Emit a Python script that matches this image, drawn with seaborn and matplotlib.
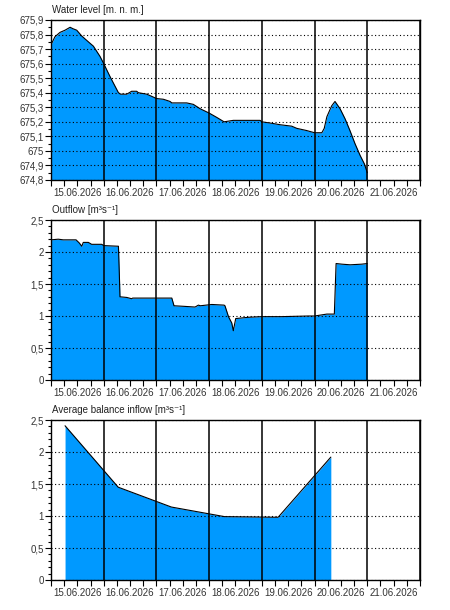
import numpy as np
import pandas as pd
import matplotlib
matplotlib.use("Agg")
import matplotlib.pyplot as plt
from matplotlib.ticker import MultipleLocator, FuncFormatter
import seaborn as sns

sns.set_style("white")
plt.rcParams['font.family'] = ['Liberation Sans', 'DejaVu Sans']
plt.rcParams['font.size'] = 7

# hours since 15.06.2026 00:00
level_hours = [0, 1.8, 4.1, 6.4, 8.7, 10, 11.7, 14, 17, 19.3, 22.3, 24, 26.9, 30.7, 31.7,
               34.5, 36.7, 39, 39.8, 43.6, 46.6, 48, 51.2, 54.2, 55, 61.8, 64.8, 67.9,
               72, 75.5, 78.8, 83, 95.2, 96, 100.5, 104.3, 109.6, 111.9, 116.4, 120,
               123.3, 124.4, 125.6, 127.8, 129.3, 131.6, 133.9, 136.1, 138.4, 140.7,
               142.7, 144]
level_values = [675.73, 675.785, 675.815, 675.83, 675.85, 675.84, 675.83, 675.79, 675.75,
                675.72, 675.65, 675.60, 675.51, 675.40, 675.39, 675.39, 675.41, 675.41,
                675.40, 675.39, 675.37, 675.36, 675.355, 675.34, 675.33, 675.33, 675.32,
                675.29, 675.26, 675.23, 675.20, 675.21, 675.21, 675.20, 675.19, 675.18,
                675.17, 675.155, 675.14, 675.125, 675.125, 675.155, 675.235, 675.31,
                675.34, 675.29, 675.22, 675.14, 675.05, 674.97, 674.91, 674.85]

outflow_hours = [0, 3.3, 5.6, 11.4, 12.9, 14, 14.7, 17, 18.5, 23.1, 24, 30.7, 31.1, 31.4,
                 34.5, 36.7, 37.2, 55, 56, 61, 65.6, 67.1, 68, 73.2, 78.8, 79.2, 80.8,
                 82.3, 83, 84.1, 89.9, 95.8, 105, 117.2, 120, 125.6, 129, 129.8, 132.4,
                 136.2, 141.5, 144]
outflow_values = [2.19, 2.20, 2.19, 2.19, 2.14, 2.09, 2.15, 2.15, 2.12, 2.12, 2.10, 2.09,
                  1.67, 1.30, 1.29, 1.27, 1.28, 1.28, 1.16, 1.15, 1.14, 1.17, 1.16, 1.18,
                  1.17, 1.16, 0.99, 0.89, 0.77, 0.96, 0.98, 0.99, 0.99, 1.00, 1.00, 1.03,
                  1.03, 1.82, 1.81, 1.80, 1.81, 1.82]

inflow_hours = [6.4, 30.6, 54.8, 79, 103.4, 127.4]
inflow_values = [2.41, 1.45, 1.14, 0.99, 0.98, 1.92]

day_labels = ["15.06.2026", "16.06.2026", "17.06.2026", "18.06.2026",
              "19.06.2026", "20.06.2026", "21.06.2026"]

panels = [
    ("Water level [m. n. m.]", level_hours, level_values, 674.8, 675.9, 0.1, 0.05),
    ("Outflow [m³s⁻¹]", outflow_hours, outflow_values, 0, 2.5, 0.5, 0.1),
    ("Average balance inflow [m³s⁻¹]", inflow_hours, inflow_values, 0, 2.5, 0.5, 0.1),
]

fill_color = "#0099FF"
W, H = 450, 610
fig = plt.figure(figsize=(W / 100, H / 100), dpi=100)
tops = [20, 220, 420]

comma = FuncFormatter(lambda v, p: ("%g" % round(v, 3)).replace(".", ","))

for (title, hrs, vals, ymin, ymax, major, minor), top in zip(panels, tops):
    ax = fig.add_axes([51 / W, 1 - (top + 160) / H, 369 / W, 160 / H])
    df = pd.DataFrame({"hour": hrs, "value": vals})
    ax.fill_between(df["hour"], ymin, df["value"], color=fill_color, lw=0, zorder=1)
    sns.lineplot(data=df, x="hour", y="value", ax=ax, color="black", lw=0.8, zorder=2)

    ax.set_xlim(0, 168)
    ax.set_ylim(ymin, ymax)
    ax.set_xlabel("")
    ax.set_ylabel("")

    ax.set_xticks(np.arange(0, 169, 24))
    ax.set_xticklabels([])
    minor_x = [h for h in range(6, 168, 6) if h % 24 != 0]
    ax.set_xticks(minor_x, minor=True)
    ax.set_xticklabels([day_labels[h // 24] if h % 24 == 12 else "" for h in minor_x],
                       minor=True)
    ax.tick_params(axis="x", which="both", direction="out", length=4, width=0.8,
                   colors="black", labelcolor="#333333", pad=2, bottom=True)

    ax.yaxis.set_major_locator(MultipleLocator(major))
    ax.yaxis.set_minor_locator(MultipleLocator(minor))
    ax.yaxis.set_major_formatter(comma)
    ax.tick_params(axis="y", which="major", direction="out", length=4, width=0.8,
                   colors="black", labelcolor="#333333", pad=1, left=True)
    ax.tick_params(axis="y", which="minor", direction="out", length=2.5, width=0.8,
                   colors="black", left=True)

    ax.set_axisbelow(False)
    ax.grid(axis="y", which="major", color="black", lw=0.8, linestyle=(0, (1, 2.2)))
    ax.grid(axis="x", which="major", color="black", lw=1.1, linestyle="-")
    for s in ax.spines.values():
        s.set_color("black")
        s.set_linewidth(1)

    ax.text(0.003, 1.03, title, transform=ax.transAxes, ha="left", va="bottom",
            color="#222222", fontsize=7)

fig.savefig("out.png", dpi=100)
